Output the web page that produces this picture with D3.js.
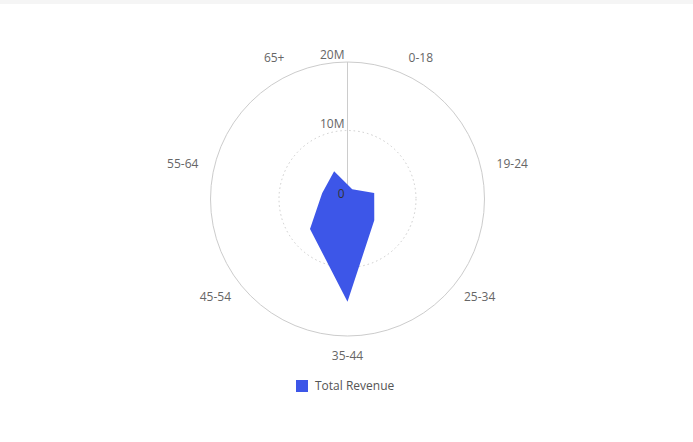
<!DOCTYPE html><html><head><meta charset="utf-8"><script src="https://cdn.jsdelivr.net/npm/d3@7"></script>
<style>body{margin:0;background:#fff;font-family:"Open Sans",sans-serif}</style></head><body><svg id="c" width="693" height="442"></svg>
<script>
const categories=["0-18","19-24","25-34","35-44","45-54","55-64","65+"];
const revenue=[1.6e6,4.0e6,5.0e6,15.0e6,7.0e6,3.8e6,4.5e6];
const tickValues=[0,10e6,20e6];
const tickLabels=["0","10M","20M"];
const svg=d3.select("#c");
svg.append("rect").attr("width",693).attr("height",4).attr("fill","#f5f5f5");
const cx=347.5,cy=199,R=137;
const g=svg.append("g").attr("transform",`translate(${cx},${cy})`);
const r=d3.scaleLinear().domain([0,20e6]).range([0,R]);
const step=2*Math.PI/categories.length;
const ang=i=>Math.PI-(3-i)*step;
g.append("circle").attr("r",r(20e6)).attr("fill","none").attr("stroke","#ccc");
g.append("circle").attr("r",r(10e6)).attr("fill","none").attr("stroke","#ccc").attr("stroke-dasharray","1.5,3");
g.append("line").attr("y1",0).attr("y2",-r(20e6)).attr("stroke","#ccc");
const line=d3.lineRadial().angle((d,i)=>ang(i)).radius(d=>r(d)).curve(d3.curveLinearClosed);
g.append("path").attr("d",line(revenue)).attr("fill","#3d56e8");
tickValues.forEach((v,i)=>g.append("text").attr("x",-3).attr("y",-r(v)).attr("dy",i==0?"-0.1em":"-0.25em").attr("text-anchor","end").attr("font-size",12).attr("fill",i==0?"#333":"#666").text(tickLabels[i]));
categories.forEach((c,i)=>{const a=ang(i),rr=R+20;const x=Math.sin(a)*rr,y=-Math.cos(a)*rr;
g.append("text").attr("x",x+Math.sin(a)*12).attr("y",y).attr("dy","0.35em").attr("text-anchor","middle").attr("font-size",12).attr("fill","#666").text(c);});
svg.append("rect").attr("x",296).attr("y",380).attr("width",12).attr("height",12).attr("fill","#3d56e8");
svg.append("text").attr("x",315).attr("y",390).attr("font-size",12).attr("fill","#555").text("Total Revenue");
</script></body></html>
